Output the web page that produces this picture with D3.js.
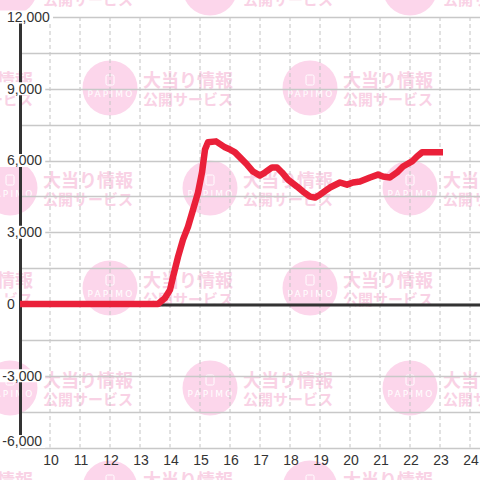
<!DOCTYPE html>
<html>
<head>
<meta charset="utf-8">
<script src="https://cdn.jsdelivr.net/npm/d3@7/dist/d3.min.js"></script>
<style>
  html, body { margin: 0; padding: 0; background: #fff; }
  svg { display: block; }
</style>
</head>
<body>
<svg id="chart" width="480" height="480"></svg>
<script>
// ---- data ----
const hours = [9.0, 13.6, 13.833, 14.0, 14.1, 14.267, 14.433, 14.6, 14.767, 14.933, 15.067, 15.167, 15.267, 15.533,
  15.833, 16.0, 16.167, 16.333, 16.567, 16.767, 17.0, 17.167, 17.4, 17.567, 17.733, 17.933, 18.233, 18.433,
  18.667, 18.833, 19.0, 19.233, 19.333, 19.667, 19.9, 20.1, 20.333, 20.667, 20.933, 21.1, 21.333, 21.567,
  21.767, 22.067, 22.233, 22.4, 23.1];
const values = [0, 0, 250, 590, 1130, 1970, 2690, 3230, 3940, 4660, 5500, 6460, 6760, 6800,
  6550, 6460, 6340, 6130, 5830, 5540, 5370, 5500, 5710, 5710, 5500, 5200, 4910, 4700,
  4490, 4450, 4570, 4780, 4870, 5080, 4990, 5080, 5120, 5290, 5410, 5330, 5290, 5500,
  5750, 5960, 6170, 6340, 6340];
const yTickValues = [12000, 9000, 6000, 3000, 0, -3000, -6000];
const yGridValues = d3.range(-6000, 12001, 1500);
const xTickValues = d3.range(10, 25, 1);
const watermarkLine1 = "大当り情報";
const watermarkLine2 = "公開サービス";
const watermarkLogo = "PAPIMO";

// ---- layout ----
const W = 480, H = 480;
const svg = d3.select("#chart");
const x = d3.scaleLinear().domain([9, 24.333]).range([20, 480]);
const y = d3.scaleLinear().domain([-6000, 12000]).range([447.5, 17]);

// ---- watermark ----
const wm = svg.append("g").attr("class", "watermark");
const wmPos = [];
[-12, 88, 188, 288, 388, 488].forEach((cy, i) => {
  const xs = (i % 2 === 0) ? [10, 210, 410] : [-90, 110, 310, 510];
  xs.forEach(cx => wmPos.push([cx, cy]));
});
wmPos.forEach(([cx, cy]) => {
  const g = wm.append("g").attr("transform", `translate(${cx},${cy})`);
  g.append("circle").attr("r", 27.5).attr("fill", "#fcd6eb");
  g.append("rect").attr("x", -4).attr("y", -13).attr("width", 8).attr("height", 10)
    .attr("rx", 1.5).attr("fill", "none").attr("stroke", "#fff").attr("stroke-width", 1);
  g.append("text").attr("x", 1).attr("y", 9).attr("text-anchor", "middle")
    .attr("font-family", "DejaVu Sans, sans-serif").attr("font-size", 9)
    .attr("letter-spacing", 2.2).attr("fill", "#fff").text(watermarkLogo);
  g.append("text").attr("x", 33).attr("y", -1)
    .attr("font-family", "Noto Sans CJK JP, sans-serif").attr("font-weight", "bold")
    .attr("font-size", 18).attr("fill", "#f9d2e5").text(watermarkLine1);
  g.append("text").attr("x", 33).attr("y", 17)
    .attr("font-family", "Noto Sans CJK JP, sans-serif").attr("font-weight", "bold")
    .attr("font-size", 15).attr("fill", "#f9d2e5").text(watermarkLine2);
});

// ---- grid ----
const grid = svg.append("g");
grid.selectAll("line.v").data(xTickValues).enter().append("line")
  .attr("x1", d => x(d)).attr("x2", d => x(d))
  .attr("y1", y(12000)).attr("y2", y(-6000))
  .attr("stroke", "#c4c4c4").attr("stroke-width", 1).attr("stroke-dasharray", "4,3");
grid.selectAll("line.h").data(yGridValues).enter().append("line")
  .attr("x1", 20).attr("x2", W)
  .attr("y1", d => Math.round(y(d)) + 0.5).attr("y2", d => Math.round(y(d)) + 0.5)
  .attr("stroke", "#c8c8c8").attr("stroke-width", 1.4);

// ---- axes lines ----
svg.append("line").attr("x1", 20.5).attr("x2", 20.5).attr("y1", y(12000)).attr("y2", y(-6000))
  .attr("stroke", "#333").attr("stroke-width", 3);
svg.append("line").attr("x1", 20).attr("x2", W).attr("y1", y(0) + 1).attr("y2", y(0) + 1)
  .attr("stroke", "#333").attr("stroke-width", 3);

// ---- y labels ----
const fmt = v => d3.format(",")(v).replace("\u2212", "-");
const yl = svg.append("g");
yTickValues.forEach(v => {
  const cy = v === -6000 ? 441.5 : y(v);
  const t = yl.append("text")
    .attr("x", v < 0 ? 2.3 : 7).attr("y", cy).attr("dy", "0.35em")
    .attr("font-family", "Liberation Sans, Arial, sans-serif").attr("font-size", 14)
    .attr("fill", "#333").text(fmt(v));
  const bb = t.node().getBBox();
  yl.insert("rect", "text").attr("x", 0).attr("y", cy - 6.5)
    .attr("width", bb.x + bb.width + 3).attr("height", 13).attr("fill", "#fff");
});
yl.selectAll("text").raise();

// ---- x labels ----
svg.append("g").selectAll("text").data(xTickValues).enter().append("text")
  .attr("x", d => x(d) + 1).attr("y", 460).attr("dy", "0.35em")
  .attr("text-anchor", "middle")
  .attr("font-family", "Liberation Sans, Arial, sans-serif").attr("font-size", 14)
  .attr("fill", "#333").text(d => d);

// ---- data line ----
const pts = hours.map((h, i) => [h, values[i]]);
const line = d3.line().x(d => x(d[0])).y(d => y(d[1]));
svg.append("path").datum(pts).attr("d", line)
  .attr("fill", "none").attr("stroke", "#ea2039").attr("stroke-width", 6.5)
  .attr("stroke-linejoin", "round").attr("stroke-linecap", "butt");
</script>
</body>
</html>
